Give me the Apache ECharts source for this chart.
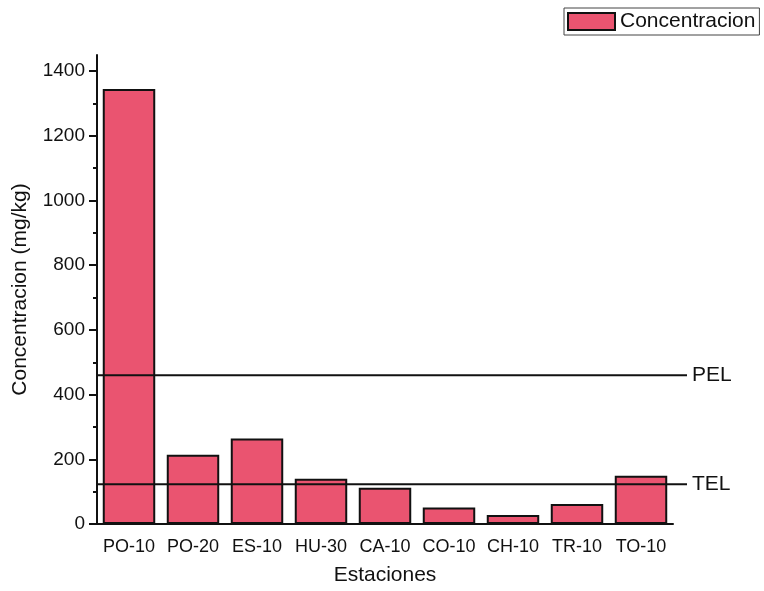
<!DOCTYPE html>
<html>
<head>
<meta charset="utf-8">
<script src="https://cdn.jsdelivr.net/npm/echarts@6/dist/echarts.min.js"></script>
<style>
  html, body { margin: 0; padding: 0; background: #fff; }
  #chart { width: 764px; height: 591px; }
</style>
</head>
<body>
<div id="chart"></div>
<script>
// Stations sampled and measured concentration (mg/kg)
const estaciones = ['PO-10', 'PO-20', 'ES-10', 'HU-30', 'CA-10', 'CO-10', 'CH-10', 'TR-10', 'TO-10'];
const concentracion = [1345, 214, 264, 140, 112, 51, 28, 62, 149];

// Sediment quality guideline levels
const guiaNombres = ['PEL', 'TEL'];
const guiaValores = [460, 123];

// Y axis ticks
const yMajorTicks = [0, 200, 400, 600, 800, 1000, 1200, 1400];
const yMinorTicks = [100, 300, 500, 700, 900, 1100, 1300];
const yMax = 1450;

const FONT = 'Liberation Sans, Arial, sans-serif';
const chart = echarts.init(document.getElementById('chart'), null, { renderer: 'canvas' });

const guideSeries = guiaNombres.map((name, i) => ({
  type: 'line',
  name: name,
  xAxisIndex: 2,
  yAxisIndex: 2,
  data: [[0, guiaValores[i]], [1, guiaValores[i]]],
  symbol: 'none',
  silent: true,
  lineStyle: { color: '#111', width: 2 },
  endLabel: {
    show: true,
    formatter: name,
    color: '#111',
    fontFamily: FONT,
    fontSize: 21,
    distance: 5
  },
  z: 5
}));

chart.setOption({
  animation: false,
  backgroundColor: '#fff',
  grid: [
    { left: 97, right: 91, top: 55, bottom: 67 },
    { left: 97, right: 77, top: 55, bottom: 67 }
  ],
  legend: {
    data: [{ name: 'Concentracion', icon: 'rect' }],
    left: 564,
    top: 8,
    padding: [3, 4, 3, 3],
    itemWidth: 47,
    itemHeight: 17,
    itemGap: 6,
    borderColor: '#444',
    borderWidth: 1,
    textStyle: { fontFamily: FONT, fontSize: 21, color: '#111' }
  },
  xAxis: [
    {
      type: 'category',
      gridIndex: 0,
      data: estaciones,
      name: 'Estaciones',
      nameLocation: 'middle',
      nameGap: 41,
      nameTextStyle: { fontFamily: FONT, fontSize: 21, color: '#111' },
      axisLine: { lineStyle: { color: '#111', width: 2 } },
      axisTick: { alignWithLabel: true, interval: 0, length: 8, lineStyle: { color: '#111', width: 2 } },
      axisLabel: { interval: 0, margin: 14, fontFamily: FONT, fontSize: 18, color: '#111' },
      splitLine: { show: false }
    },
    {
      type: 'category',
      gridIndex: 0,
      position: 'bottom',
      data: estaciones,
      axisLine: { show: false },
      axisTick: { alignWithLabel: false, interval: 0, length: 5, lineStyle: { color: '#111', width: 2 } },
      axisLabel: { show: false },
      splitLine: { show: false }
    },
    {
      type: 'value',
      gridIndex: 1,
      min: 0,
      max: 1,
      show: false
    }
  ],
  yAxis: [
    {
      type: 'value',
      gridIndex: 0,
      min: 0,
      max: yMax,
      name: 'Concentracion (mg/kg)',
      nameLocation: 'middle',
      nameGap: 66,
      nameTextStyle: { fontFamily: FONT, fontSize: 21, color: '#111' },
      axisLine: { show: true, lineStyle: { color: '#111', width: 2 } },
      axisTick: { show: true, customValues: yMajorTicks, length: 8, lineStyle: { color: '#111', width: 2 } },
      axisLabel: {
        customValues: yMajorTicks,
        formatter: (v) => String(v),
        margin: 12, fontFamily: FONT, fontSize: 19, color: '#111'
      },
      splitLine: { show: false }
    },
    {
      type: 'value',
      gridIndex: 0,
      position: 'left',
      min: 0,
      max: yMax,
      axisLine: { show: false },
      axisTick: { show: true, customValues: yMinorTicks, length: 4, lineStyle: { color: '#111', width: 2 } },
      axisLabel: { show: false },
      splitLine: { show: false }
    },
    {
      type: 'value',
      gridIndex: 1,
      min: 0,
      max: yMax,
      show: false
    }
  ],
  series: [
    {
      type: 'bar',
      name: 'Concentracion',
      xAxisIndex: 0,
      yAxisIndex: 0,
      data: concentracion,
      barCategoryGap: '18%',
      itemStyle: { color: '#ea5470', borderColor: '#111', borderWidth: 2 },
      z: 2
    },
    ...guideSeries
  ]
});
</script>
</body>
</html>
